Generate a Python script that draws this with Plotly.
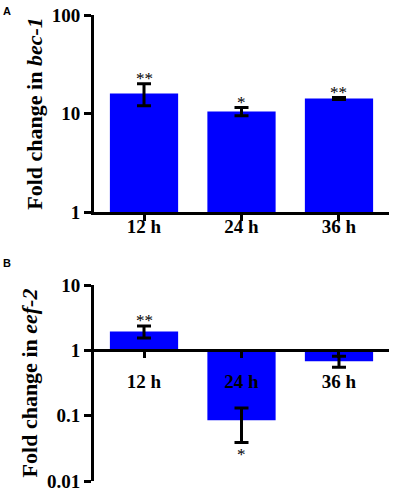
import numpy as np
import plotly.graph_objects as go

categories = ["12 h", "24 h", "36 h"]
bec1 = [16.0, 10.5, 14.2]
bec1_err = [4.0, 1.0, 0.3]
bec1_sig = ["**", "*", "**"]
eef2 = [1.95, 0.085, 0.68]
eef2_err = [0.4, 0.046, 0.13]
eef2_sig = ["**", "*", ""]
yticks_a = [1, 10, 100]
yticks_b = [0.01, 0.1, 1, 10]

BLUE = "#0000FF"
SERIF = "Liberation Serif, Times New Roman, serif"
H = 493

fig = go.Figure()

# Panel A
fig.add_trace(go.Bar(x=categories, y=[v - 1 for v in bec1], base=[1] * 3,
                     marker=dict(color=BLUE, line=dict(width=0)), width=0.7,
                     xaxis="x", yaxis="y", showlegend=False))
fig.add_trace(go.Scatter(x=categories, y=bec1, mode="markers",
                         marker=dict(opacity=0, size=1),
                         error_y=dict(type="data", array=bec1_err, color="black",
                                      thickness=3, width=7),
                         xaxis="x", yaxis="y", showlegend=False))
# Panel B
fig.add_trace(go.Bar(x=categories, y=[v - 1 for v in eef2], base=[1] * 3,
                     marker=dict(color=BLUE, line=dict(width=0)), width=0.7,
                     xaxis="x2", yaxis="y2", showlegend=False))
fig.add_trace(go.Scatter(x=categories, y=eef2, mode="markers",
                         marker=dict(opacity=0, size=1),
                         error_y=dict(type="data", array=eef2_err, color="black",
                                      thickness=3, width=7),
                         xaxis="x2", yaxis="y2", showlegend=False))

sigfont = dict(family=SERIF, size=17, color="black")
ann = []
for c, v, e, s in zip(categories, bec1, bec1_err, bec1_sig):
    if s:
        ann.append(dict(x=c, y=np.log10(v + e), xref="x", yref="y", text=s,
                        showarrow=False, yanchor="bottom", yshift=-6, font=sigfont))
for c, v, e, s in zip(categories, eef2, eef2_err, eef2_sig):
    if s:
        if v >= 1:
            ann.append(dict(x=c, y=np.log10(v + e), xref="x2", yref="y2", text=s,
                            showarrow=False, yanchor="bottom", yshift=-6, font=sigfont))
        else:
            ann.append(dict(x=c, y=np.log10(v - e), xref="x2", yref="y2", text=s,
                            showarrow=False, yanchor="top", yshift=-1, font=sigfont))
ann.append(dict(x=7 / 393, y=1 - 11 / H, xref="paper", yref="paper", text="<b>A</b>",
                showarrow=False, xanchor="center", yanchor="middle",
                font=dict(family="Liberation Sans, Arial", size=11, color="black")))
ann.append(dict(x=7 / 393, y=1 - 263 / H, xref="paper", yref="paper", text="<b>B</b>",
                showarrow=False, xanchor="center", yanchor="middle",
                font=dict(family="Liberation Sans, Arial", size=11, color="black")))

xdom = [94 / 393, 389 / 393]
ya_dom = [(H - 212) / H, (H - 15) / H]
yb_dom = [(H - 481) / H, (H - 285) / H]
yb_one = yb_dom[0] + (yb_dom[1] - yb_dom[0]) * 2 / 3

tickfont = dict(family=SERIF, size=19, color="black", weight="bold")
common_x = dict(showline=True, linecolor="black", linewidth=3, ticks="outside",
                ticklen=6, tickwidth=3, tickcolor="black", showgrid=False,
                zeroline=False, range=[-0.513, 2.513], domain=xdom,
                automargin=False, tickfont=tickfont)
common_y = dict(type="log", showline=True, linecolor="black", linewidth=3,
                ticks="outside", ticklen=7, tickwidth=3, tickcolor="black",
                showgrid=False, zeroline=False, automargin=False, tickfont=tickfont)

fig.update_layout(
    width=393, height=H, margin=dict(l=0, r=0, t=0, b=0, autoexpand=False),
    plot_bgcolor="white", paper_bgcolor="white",
    xaxis=dict(**common_x, anchor="y", ticklabelstandoff=-11),
    yaxis=dict(**common_y, domain=ya_dom, range=[0, 2], anchor="x",
               tickvals=yticks_a, ticktext=[str(t) for t in yticks_a],
               title=dict(text="<b>Fold change in <i>bec-1</i></b>", standoff=4,
                          font=dict(family=SERIF, size=22, color="black"))),
    xaxis2=dict(**common_x, anchor="free", position=yb_one, ticklabelstandoff=7),
    yaxis2=dict(**common_y, domain=yb_dom, range=[-2, 1], anchor="x2",
                tickvals=yticks_b, ticktext=[str(t) for t in yticks_b],
                title=dict(text="<b>Fold change in <i>eef-2</i></b>", standoff=4,
                           font=dict(family=SERIF, size=22, color="black"))),
    annotations=ann,
)

fig.write_html("out.html", config={"displayModeBar": False},
               post_script="document.body.style.margin='0';document.body.style.padding='0';")
